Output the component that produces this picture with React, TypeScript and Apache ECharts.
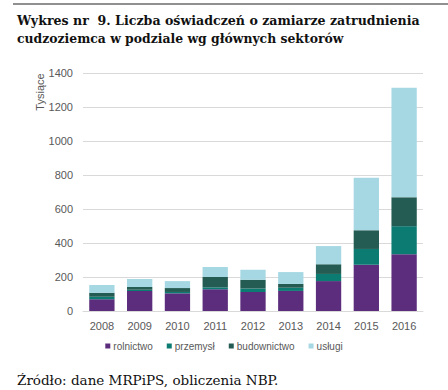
import React, { useEffect, useRef } from "react";
import * as echarts from "echarts";

const years = ["2008", "2009", "2010", "2011", "2012", "2013", "2014", "2015", "2016"];
const rolnictwo = [69, 117, 104, 128, 112, 118, 176, 272, 334];
const przemysl = [15, 8, 8, 11, 21, 19, 42, 93, 165];
const budownictwo = [24, 16, 23, 61, 51, 22, 57, 110, 170];
const uslugi = [45, 47, 41, 59, 59, 70, 107, 309, 644];
const yTicks = { min: 0, max: 1400, interval: 200 };

const titleLine1 = "Wykres nr  9. Liczba oświadczeń o zamiarze zatrudnienia";
const titleLine2 = "cudzoziemca w podziale wg głównych sektorów";
const footer = "Źródło: dane MRPiPS, obliczenia NBP.";

export default function App() {
  const ref = useRef<HTMLDivElement>(null);
  useEffect(() => {
    if (!ref.current) return;
    const chart = echarts.init(ref.current, null, { renderer: "svg" });
    const sans = "Liberation Sans";
    const mk = (name: string, data: number[], color: string) => ({
      name,
      type: "bar",
      stack: "total",
      data,
      barCategoryGap: "33%",
      itemStyle: { color },
    });
    chart.setOption({
      animation: false,
      backgroundColor: "#ffffff",
      grid: { left: 83, right: 25, top: 73, bottom: 79 },
      xAxis: {
        type: "category",
        data: years,
        axisLine: { show: true, lineStyle: { color: "#d9d9d9" } },
        axisTick: { show: false },
        axisLabel: { color: "#595959", fontSize: 11, fontFamily: sans, margin: 9 },
      },
      yAxis: {
        type: "value",
        ...yTicks,
        axisLine: { show: false },
        axisTick: { show: false },
        splitLine: { lineStyle: { color: "#d9d9d9" } },
        axisLabel: {
          color: "#595959",
          fontSize: 11,
          fontFamily: sans,
          margin: 10,
          formatter: (v: number) => String(v),
        },
      },
      legend: {
        bottom: 34,
        left: "center",
        icon: "rect",
        itemWidth: 5,
        itemHeight: 5,
        itemGap: 14,
        textStyle: { color: "#595959", fontSize: 10, fontFamily: sans, padding: [0, 0, 0, -2] },
        data: ["rolnictwo", "przemysł", "budownictwo", "usługi"],
      },
      series: [
        mk("rolnictwo", rolnictwo, "#5c2d7c"),
        mk("przemysł", przemysl, "#0c7b72"),
        mk("budownictwo", budownictwo, "#245b52"),
        mk("usługi", uslugi, "#a6d8e4"),
      ],
      graphic: [
        {
          type: "line",
          shape: { x1: 13, y1: 4, x2: 448, y2: 4 },
          style: { stroke: "#222", lineWidth: 1.2 },
        },
        {
          type: "text",
          x: 17,
          y: 20,
          style: {
            text: titleLine1,
            font: "bold 12.6px 'DejaVu Serif'",
            fill: "#111",
            verticalAlign: "middle",
          },
        },
        {
          type: "text",
          x: 17,
          y: 38,
          style: {
            text: titleLine2,
            font: "bold 12.4px 'DejaVu Serif'",
            fill: "#111",
            verticalAlign: "middle",
          },
        },
        {
          type: "text",
          x: 40,
          y: 92,
          rotation: Math.PI / 2,
          style: {
            text: "Tysiące",
            font: `11px '${sans}'`,
            fill: "#595959",
            align: "center",
            verticalAlign: "middle",
          },
        },
        {
          type: "text",
          x: 17,
          y: 380,
          style: {
            text: footer,
            font: "13.5px 'DejaVu Serif'",
            fill: "#111",
            verticalAlign: "middle",
          },
        },
      ],
    });
    return () => chart.dispose();
  }, []);
  return (
    <div
      ref={ref}
      style={{ position: "fixed", left: 0, top: 0, width: 448, height: 390 }}
    />
  );
}
